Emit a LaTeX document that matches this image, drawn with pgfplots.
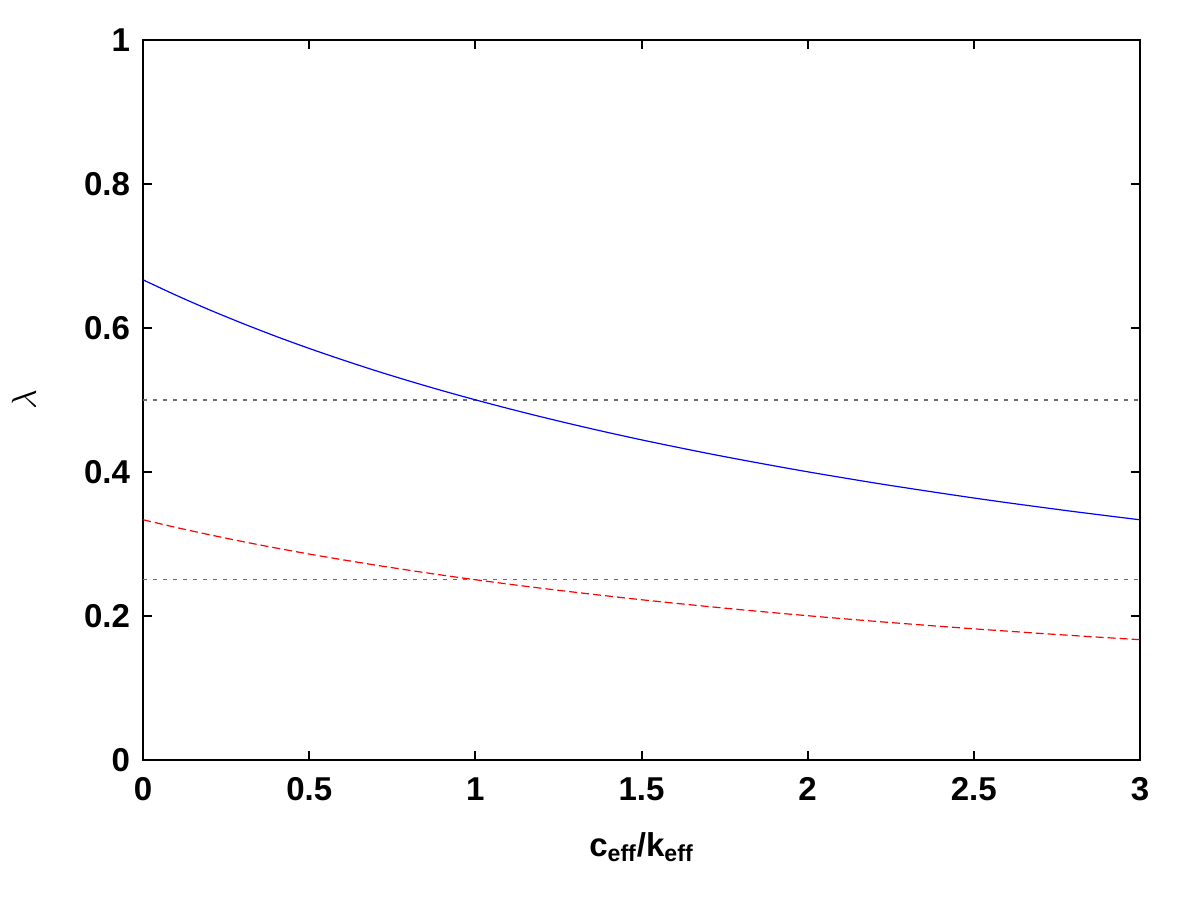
\documentclass[border=0pt]{standalone}
\usepackage{fontspec}
\setmainfont{Liberation Sans}
\usepackage{pgfplots}
\pgfplotsset{compat=1.18}
\begin{document}
\begin{tikzpicture}
\useasboundingbox (-71.5pt,-70.5pt) rectangle (528pt,379.5pt);
\begin{axis}[
  at={(0,0)}, anchor=south west,
  scale only axis, width=498pt, height=359.5pt,
  xmin=0, xmax=3, ymin=0, ymax=1,
  xtick={0,0.5,1,1.5,2,2.5,3},
  ytick={0,0.2,0.4,0.6,0.8,1},
  xticklabels={0,0.5,1,1.5,2,2.5,3},
  yticklabels={0,0.2,0.4,0.6,0.8,1},
  tick align=inside, major tick length=4.5pt,
  every tick/.style={black, line width=1pt},
  axis line style={line width=1pt},
  ticklabel style={font=\fontsize{16.5}{20}\selectfont\bfseries},
  xticklabel style={yshift=-5.5pt},
  yticklabel style={xshift=-3pt},
  xlabel={\fontsize{16.5}{20}\selectfont\bfseries c\textsubscript{eff}/k\textsubscript{eff}},
  ylabel={\fontsize{19}{20}\selectfont$\lambda$},
  xlabel style={at={(axis description cs:0.5,0)}, anchor=north, yshift=-33pt},
  ylabel style={at={(axis description cs:0,0.5)}, anchor=south, xshift=0pt, yshift=50pt},
  clip=true,
]
\addplot[gray!85!black, line width=0.7pt, dash pattern=on 2pt off 3pt] coordinates {(0,0.5) (3,0.5)};
\addplot[gray!85!black, line width=0.7pt, dash pattern=on 2pt off 3pt] coordinates {(0,0.25) (3,0.25)};
\addplot[blue, line width=0.6pt, smooth] coordinates {
(0,0.6667) (0.1,0.6452) (0.2,0.625) (0.3,0.6061) (0.4,0.5882) (0.5,0.5714)
(0.6,0.5556) (0.7,0.5405) (0.8,0.5263) (0.9,0.5128) (1.0,0.5)
(1.1,0.4878) (1.2,0.4762) (1.3,0.4651) (1.4,0.4545) (1.5,0.4444)
(1.6,0.4348) (1.7,0.4255) (1.8,0.4167) (1.9,0.4082) (2.0,0.4)
(2.1,0.3922) (2.2,0.3846) (2.3,0.3774) (2.4,0.3704) (2.5,0.3636)
(2.6,0.3571) (2.7,0.3509) (2.8,0.3448) (2.9,0.3390) (3.0,0.3333)};
\addplot[red, line width=0.6pt, smooth, dash pattern=on 4pt off 2pt] coordinates {
(0,0.3333) (0.1,0.3226) (0.2,0.3125) (0.3,0.3030) (0.4,0.2941) (0.5,0.2857)
(0.6,0.2778) (0.7,0.2703) (0.8,0.2632) (0.9,0.2564) (1.0,0.25)
(1.1,0.2439) (1.2,0.2381) (1.3,0.2326) (1.4,0.2273) (1.5,0.2222)
(1.6,0.2174) (1.7,0.2128) (1.8,0.2083) (1.9,0.2041) (2.0,0.2)
(2.1,0.1961) (2.2,0.1923) (2.3,0.1887) (2.4,0.1852) (2.5,0.1818)
(2.6,0.1786) (2.7,0.1754) (2.8,0.1724) (2.9,0.1695) (3.0,0.1667)};
\end{axis}
\end{tikzpicture}
\end{document}
